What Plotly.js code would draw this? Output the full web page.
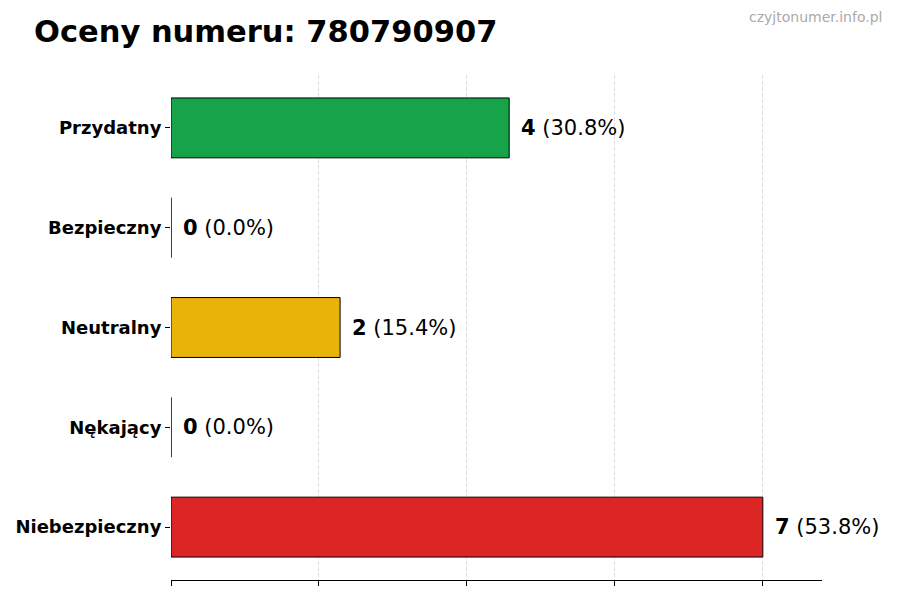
<!DOCTYPE html>
<html>
<head>
<meta charset="utf-8">
<script src="https://cdn.plot.ly/plotly-3.0.1.min.js"></script>
<style>
  body { margin: 0; background: #fff; }
  #chart { width: 900px; height: 600px; }
</style>
</head>
<body>
<div id="chart"></div>
<script>
const categories = ["Przydatny", "Bezpieczny", "Neutralny", "Nękający", "Niebezpieczny"];
const counts = [4, 0, 2, 0, 7];
const percents = ["30.8%", "0.0%", "15.4%", "0.0%", "53.8%"];
const colors = ["#16a34a", "#2563eb", "#eab308", "#9333ea", "#dc2626"];
const gridTicks = [0, 1.75, 3.5, 5.25, 7];

const font = "DejaVu Sans, sans-serif";
const W = 900, H = 600, mL = 171, mR = 78, mT = 75, mB = 20;

// value labels next to each bar
const annotations = categories.map((c, i) => ({
  x: counts[i],
  y: c,
  xref: "x",
  yref: "y",
  xanchor: "left",
  yanchor: "middle",
  xshift: 10,
  showarrow: false,
  text: `<b>${counts[i]}</b> (${percents[i]})`,
  font: { family: font, size: 21, color: "#000" }
}));

// watermark, placed in pixels relative to the plot area
annotations.push({
  x: (884 - mL) / (W - mL - mR),
  y: 1 + (mT - 17) / (H - mT - mB),
  xref: "paper", yref: "paper",
  text: "czyjtonumer.info.pl", showarrow: false,
  xanchor: "right", yanchor: "middle",
  font: { family: font, size: 14, color: "#aaaaaa" }
});

Plotly.newPlot("chart", [{
  type: "bar",
  orientation: "h",
  x: counts,
  y: categories,
  width: 0.6,
  marker: { color: colors, line: { color: "#000", width: 1 } },
  hoverinfo: "none"
}], {
  width: W,
  height: H,
  margin: { l: mL, r: mR, t: mT, b: mB },
  paper_bgcolor: "#fff",
  plot_bgcolor: "#fff",
  showlegend: false,
  title: {
    text: "<b>Oceny numeru: 780790907</b>",
    x: 34 / W, xanchor: "left",
    y: 1 - 31 / H, yanchor: "middle",
    font: { family: font, size: 30.5, color: "#000" }
  },
  xaxis: {
    range: [0, 7.7],
    tickvals: gridTicks,
    showticklabels: false,
    ticks: "outside",
    ticklen: 5,
    tickcolor: "#000",
    showline: true,
    linecolor: "#000",
    linewidth: 1,
    showgrid: true,
    gridcolor: "#dddddd",
    griddash: "4px,2px",
    gridwidth: 1,
    zeroline: false,
    fixedrange: true
  },
  yaxis: {
    type: "category",
    categoryorder: "array",
    categoryarray: categories,
    range: [4.53, -0.53],
    ticks: "outside",
    ticklen: 5,
    tickcolor: "#000",
    showline: false,
    showgrid: false,
    zeroline: false,
    tickfont: { family: font, size: 18, color: "#000", weight: "bold" },
    fixedrange: true
  },
  annotations: annotations
}, { displayModeBar: false, staticPlot: true });
</script>
</body>
</html>
